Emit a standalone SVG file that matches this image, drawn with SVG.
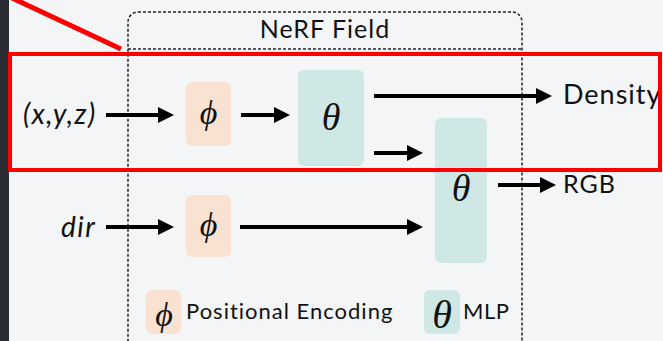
<svg xmlns="http://www.w3.org/2000/svg" width="663" height="341" viewBox="0 0 663 341">
<defs>
<style>
.t{font-family:Lato,"Liberation Sans",sans-serif;fill:#111;letter-spacing:1px}
.it{font-style:italic;letter-spacing:1.5px}
.sym{font-family:"Liberation Serif","DejaVu Serif",serif;font-style:italic;fill:#111}
.pe{fill:#f9e2d1}
.ml{fill:#cfe8e5}
.ar{stroke:#000;stroke-width:4;fill:none;marker-end:url(#ah)}
</style>
<marker id="ah" markerWidth="4" markerHeight="4" refX="0.5" refY="2" orient="auto" markerUnits="strokeWidth" viewBox="0 0 4 4">
<path d="M0,0 L4,2 L0,4 z" fill="#000"/>
</marker>
</defs>
<rect width="663" height="341" fill="#f4f5f7"/>
<rect x="0" y="0" width="9" height="341" fill="#2a2d32"/>
<g id="nerf-field">
<rect x="128" y="12" width="394" height="340" rx="10" fill="none" stroke="#222" stroke-width="1.5" stroke-dasharray="3,2"/>
<line x1="128" y1="49" x2="522" y2="49" stroke="#222" stroke-width="1.5" stroke-dasharray="3,2"/>
<text class="t" x="325" y="38" font-size="25" text-anchor="middle">NeRF Field</text>
</g>
<g id="pe1"><rect class="pe" x="186" y="82" width="45" height="64" rx="6"/><text class="sym" x="208.5" y="124" font-size="34" text-anchor="middle">ϕ</text></g>
<g id="mlp1"><rect class="ml" x="298" y="70" width="66" height="96" rx="6"/><text class="sym" x="331" y="130" font-size="38" text-anchor="middle">θ</text></g>
<g id="mlp2"><rect class="ml" x="435" y="118" width="52" height="145" rx="6"/><text class="sym" x="461" y="201" font-size="38" text-anchor="middle">θ</text></g>
<g id="pe2"><rect class="pe" x="186" y="195" width="45" height="62" rx="6"/><text class="sym" x="208.5" y="236" font-size="34" text-anchor="middle">ϕ</text></g>
<g id="in-xyz"><text class="t it" x="23" y="124" font-size="28">(x,y,z)</text></g>
<g id="in-dir"><text class="t it" x="61" y="237" font-size="28">dir</text></g>
<g id="out-density"><text class="t" x="563" y="104" font-size="27">Density</text></g>
<g id="out-rgb"><text class="t" x="563" y="193" font-size="25">RGB</text></g>
<g id="connectors">
<line class="ar" x1="106" y1="115" x2="160" y2="115"/>
<line class="ar" x1="241" y1="115" x2="276" y2="115"/>
<line class="ar" x1="374" y1="96" x2="538" y2="96"/>
<line class="ar" x1="374" y1="153" x2="409" y2="153"/>
<line class="ar" x1="498" y1="185" x2="542" y2="185"/>
<line class="ar" x1="106" y1="227" x2="160" y2="227"/>
<line class="ar" x1="240" y1="227" x2="409" y2="227"/>
</g>
<g id="legend">
<rect class="pe" x="146" y="290" width="35" height="44" rx="6"/>
<text class="sym" x="164" y="326" font-size="34" text-anchor="middle">ϕ</text>
<text class="t" x="186" y="319" font-size="22">Positional Encoding</text>
<rect class="ml" x="424" y="290" width="36" height="44" rx="6"/>
<text class="sym" x="442" y="328" font-size="40" text-anchor="middle">θ</text>
<text class="t" x="463" y="319" font-size="22" style="letter-spacing:0.5px">MLP</text>
</g>
<g id="highlight">
<line x1="12" y1="-2" x2="121" y2="49" stroke="#ff0000" stroke-width="5"/>
<rect x="10" y="54" width="650" height="116" fill="none" stroke="#ff0000" stroke-width="4"/>
</g>
</svg>
